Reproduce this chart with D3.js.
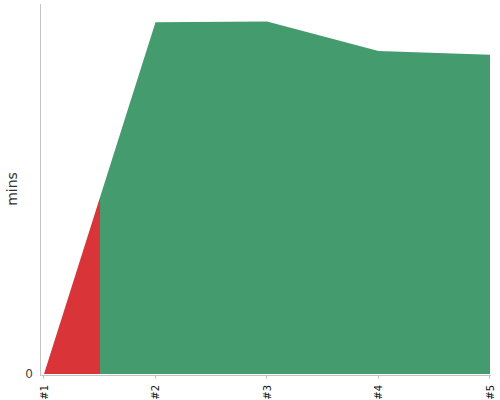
<!DOCTYPE html>
<html>
<head>
<meta charset="UTF-8">
<script src="https://d3js.org/d3.v7.min.js"></script>
<style>
    body { margin: 0; background: #fff; }
    text { font-family: "DejaVu Sans", sans-serif; }
    .axis-line { stroke: #c4c4c4; stroke-width: 1; fill: none; }
</style>
</head>
<body>
<svg id="chart" width="500" height="400"></svg>
<script>
    // runs, minutes and status per run
    var runs = ["#1", "#2", "#3", "#4", "#5"];
    var mins = [0, 47.9, 48.0, 44.0, 43.5];
    var runStatus = ["fail", "pass", "pass", "pass", "pass"];
    var yTicks = [0];
    var statusColor = { fail: "#d93538", pass: "#449c6e" };

    var svg = d3.select("#chart"),
        plotLeft = 40, plotTop = 4, plotBottom = 374, plotRight = 490;

    var x = d3.scalePoint().domain(runs).range([44, plotRight]);
    var y = d3.scaleLinear().domain([0, d3.max(mins) * 1.05]).range([plotBottom, plotTop]);

    var data = runs.map(function (r, i) { return { run: r, v: mins[i], s: runStatus[i] }; });

    // hard-stop gradient: each run's colour covers half the gap to its neighbours
    var x0 = x(runs[0]), x1 = x(runs[runs.length - 1]);
    var grad = svg.append("defs").append("linearGradient")
        .attr("id", "statusFill")
        .attr("gradientUnits", "userSpaceOnUse")
        .attr("x1", x0).attr("x2", x1)
        .attr("y1", 0).attr("y2", 0);
    data.forEach(function (d, i) {
        var from = i == 0 ? x(d.run) : (x(data[i - 1].run) + x(d.run)) / 2;
        var to = i == data.length - 1 ? x(d.run) : (x(d.run) + x(data[i + 1].run)) / 2;
        grad.append("stop").attr("offset", (from - x0) / (x1 - x0)).attr("stop-color", statusColor[d.s]);
        grad.append("stop").attr("offset", (to - x0) / (x1 - x0)).attr("stop-color", statusColor[d.s]);
    });

    var area = d3.area()
        .x(function (d) { return x(d.run); })
        .y0(y(0))
        .y1(function (d) { return y(d.v); });

    svg.append("path").datum(data).attr("d", area).attr("fill", "url(#statusFill)");

    // axes
    svg.append("line").attr("class", "axis-line")
        .attr("x1", plotLeft + 0.5).attr("x2", plotLeft + 0.5).attr("y1", plotTop).attr("y2", plotBottom + 1);
    svg.append("line").attr("class", "axis-line")
        .attr("x1", plotLeft).attr("x2", plotRight + 1).attr("y1", plotBottom + 1.5).attr("y2", plotBottom + 1.5);

    svg.selectAll(".xtick").data(runs).enter().append("line")
        .attr("class", "axis-line")
        .attr("x1", function (d) { return Math.round(x(d)) - 0.5; })
        .attr("x2", function (d) { return Math.round(x(d)) - 0.5; })
        .attr("y1", plotBottom + 1).attr("y2", plotBottom + 5);

    svg.selectAll(".xlabel").data(runs).enter().append("text")
        .attr("transform", function (d) { return "translate(" + x(d) + "," + (plotBottom + 11) + ") rotate(-90)"; })
        .attr("text-anchor", "end")
        .attr("dy", "0.35em")
        .style("font-size", "10px")
        .attr("fill", "#111")
        .text(function (d) { return d; });

    svg.selectAll(".ylabel").data(yTicks).enter().append("text")
        .attr("x", 33).attr("y", function (d) { return y(d); })
        .attr("dy", "0.35em")
        .attr("text-anchor", "end")
        .style("font-size", "12px")
        .attr("fill", "#444")
        .text(function (d) { return d; });

    svg.append("text")
        .attr("transform", "translate(12," + ((plotTop + plotBottom) / 2) + ") rotate(-90)")
        .attr("text-anchor", "middle")
        .attr("dy", "0.35em")
        .style("font-size", "14px")
        .attr("fill", "#333")
        .text("mins");
</script>
</body>
</html>
